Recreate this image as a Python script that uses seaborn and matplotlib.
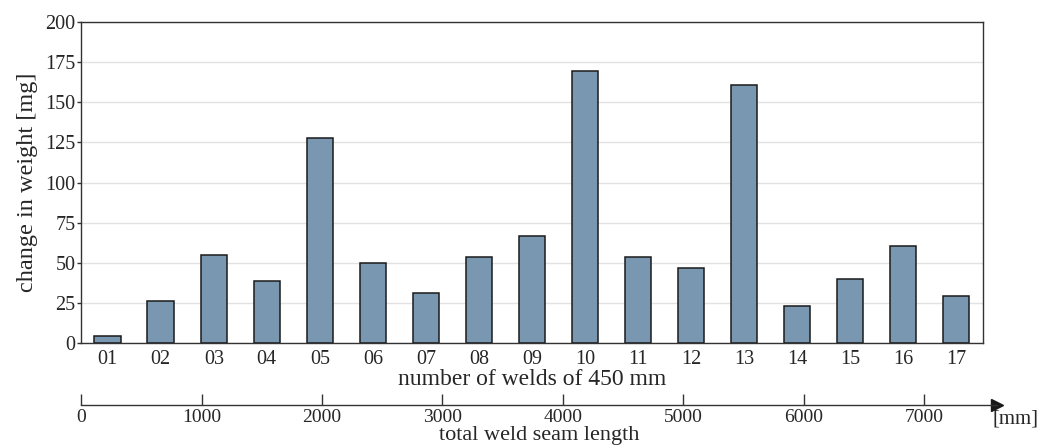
import matplotlib
matplotlib.use("Agg")
import matplotlib.pyplot as plt
import seaborn as sns
import pandas as pd

# data
welds = ["01", "02", "03", "04", "05", "06", "07", "08", "09",
         "10", "11", "12", "13", "14", "15", "16", "17"]
weight_change = [4.4, 26, 55, 39, 127.5, 50, 31, 53.6, 67,
                 169.5, 53.5, 46.5, 160.7, 23.2, 40, 60.4, 29.3]
y_ticks = [0, 25, 50, 75, 100, 125, 150, 175, 200]
mm_ticks = [0, 1000, 2000, 3000, 4000, 5000, 6000, 7000]

df = pd.DataFrame({"weld": welds, "change": weight_change})

sns.set_style("white")
plt.rcParams["font.family"] = ["Liberation Serif", "DejaVu Serif"]
plt.rcParams["font.size"] = 14

fig = plt.figure(figsize=(10.41, 4.48), dpi=100)
ax = fig.add_axes([0.078, 0.234, 0.866, 0.717])

sns.barplot(data=df, x="weld", y="change", color="#7a97b2",
            saturation=1, width=0.5, edgecolor="#1a1a1a", linewidth=1.1, ax=ax)

ax.set_ylim(0, 200)
ax.set_xlim(-0.5, len(welds) - 0.5)
ax.set_yticks(y_ticks)
ax.yaxis.grid(True, color="#e2e2e2", linewidth=1)
ax.set_axisbelow(True)
for s in ax.spines.values():
    s.set_color("#333333")
    s.set_linewidth(1)

# category boundary ticks on the x axis
ax.set_xticks([i - 0.5 for i in range(len(welds) + 1)], minor=True)
ax.tick_params(axis="x", which="minor", direction="inout", length=9, width=1, color="#333333")
ax.tick_params(axis="x", which="major", length=0, pad=5, labelsize=14.5)
ax.tick_params(axis="y", which="major", left=True, direction="out", length=3, width=1,
               color="#333333", pad=1, labelsize=14.5)
ax.set_xlabel("number of welds of 450 mm", fontsize=17, labelpad=0)
ax.set_ylabel("change in weight [mg]", fontsize=17.5, labelpad=5)

# secondary length axis with arrow (flat axes, ticks pointing up)
ax2 = fig.add_axes([0.078, 0.096, 0.88, 0.0001])
ax2.set_xlim(0, 7608)
ax2.set_yticks([])
for side in ["left", "right", "top"]:
    ax2.spines[side].set_visible(False)
ax2.spines["bottom"].set_color("#333333")
ax2.spines["bottom"].set_linewidth(1)
ax2.set_xticks(mm_ticks)
ax2.tick_params(axis="x", bottom=False, top=True, labelbottom=True, labeltop=False,
                direction="out", length=8, width=1, color="#333333",
                pad=-5, labelsize=14)
ax2.plot(1, 0, ">", color="#1a1a1a", markersize=9, transform=ax2.transAxes, clip_on=False)
ax2.set_xlabel("total weld seam length", fontsize=16, labelpad=0)
fig.text(0.953, 0.064, "[mm]", fontsize=15, ha="left", va="center")

fig.savefig("out.png", dpi=100)
